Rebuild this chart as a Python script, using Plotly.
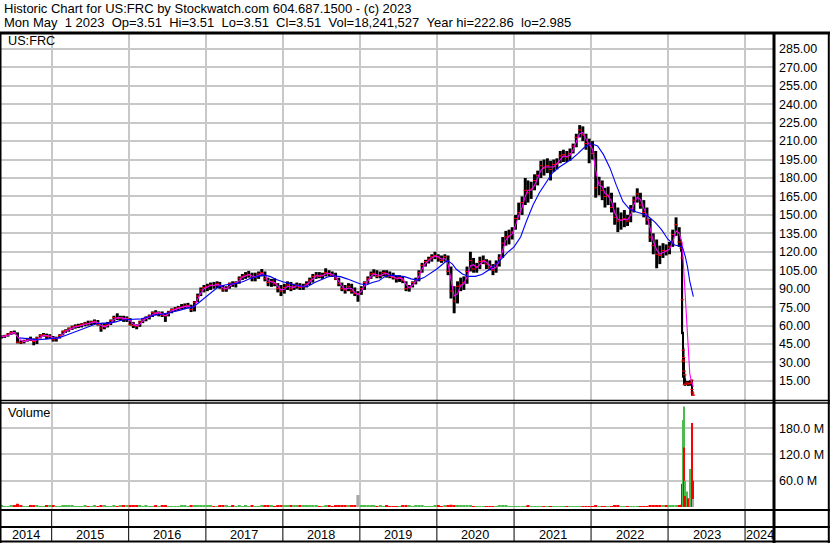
import pandas as pd
import plotly.graph_objects as go

# ---------------- data ----------------
# semi-monthly sampling grid May 2014 .. Feb 2023, then finer around the March 2023 collapse
half_month_dates = [f"{y}-{m:02d}-{d:02d}" for y in range(2014, 2024) for m in range(1, 13) for d in (8, 23)
                    if (2014, 5) <= (y, m) <= (2023, 2)]
crash_dates = ["2023-03-03", "2023-03-09", "2023-03-10", "2023-03-13", "2023-03-14", "2023-03-15",
               "2023-03-16", "2023-03-17", "2023-03-20", "2023-03-21", "2023-03-24", "2023-03-31",
               "2023-04-07", "2023-04-14", "2023-04-21", "2023-04-24", "2023-04-25", "2023-04-26",
               "2023-04-27", "2023-04-28", "2023-05-01"]
dates = half_month_dates + crash_dates

high = [
    52, 52.5, 54, 55.5, 56, 54.5, 48, 48.5, 50, 51, 49.5, 51, 53, 54, 53.5, 53,
    51.5, 51, 53, 56, 57, 58.5, 60, 61, 61.5, 62, 63, 64, 64, 65, 64.5, 62, 62, 63, 65, 68, 70, 68, 68, 67.5,
    66, 63, 61, 64, 66, 67.5, 69, 71.5, 72.5, 71.5, 71.5, 70, 72, 74, 75, 76, 77.5, 78, 78.5, 77, 80, 86, 91, 93,
    94, 95, 95.5, 96, 95.5, 93, 92, 95, 96, 96, 100, 102, 103.5, 104.5, 103, 103, 104, 106, 104, 99, 98, 98.5, 94.5, 93,
    94, 96, 95.5, 94, 95, 94.5, 94, 96, 99, 102, 103.5, 103.5, 103, 106.6, 105, 104, 103, 99, 95, 93, 94.5, 94, 91, 88,
    92, 96, 100, 104, 105.8, 105, 104, 105, 105, 104, 103, 101, 101, 100, 96, 93, 96, 99, 105, 111, 113.5, 116, 118, 120,
    118, 117, 118, 117, 108, 92, 96, 99, 100, 108, 120, 115, 111, 116, 117, 114, 113, 110, 113, 118, 132, 137, 138, 140,
    150, 160, 165, 180, 178, 177, 183, 186, 194, 195, 196, 194, 195, 196, 202, 203, 202, 204, 208, 216, 223, 222, 216, 212,
    210, 202, 181, 178, 172, 173, 168, 160, 156, 152, 154, 150, 158, 165, 171.6, 168, 162, 156, 147, 135, 130, 125, 127, 126,
    128, 138, 148, 140,
    130, 123, 115, 55, 50, 40, 42, 34, 24, 20, 17, 15, 15, 15.5, 15, 16, 15.7, 8.5, 6.5, 5.5, 3.51,
]
low = [
    49.5, 50, 51, 52.5, 53, 45.5, 45, 45.5, 47, 47.5, 44, 45, 49.5, 51, 49, 49.5,
    47, 47, 49.5, 52, 54, 55, 56.5, 57.5, 58, 58.5, 59.5, 60, 60.5, 61, 60, 55, 57, 58.5, 60.5, 63, 64.5, 64, 63, 63,
    60, 58, 57, 59, 62, 63.5, 65, 67, 68.5, 67.5, 67, 63, 67.5, 70, 71.5, 72, 73, 73.5, 74.5, 71, 71.5, 79, 84, 87,
    88, 89, 90, 90.5, 90, 87.5, 87.5, 90, 91.5, 91, 94, 97, 98, 99, 96, 96, 98, 100, 96, 92, 91.5, 92, 87, 84,
    86, 89, 88, 89, 90, 89, 89, 91, 93, 95, 98, 98.5, 98, 100, 100, 99.5, 97, 92, 88, 86, 88, 86, 84, 79.4,
    85, 89, 94, 98, 100, 98.5, 98.4, 100, 99, 98.5, 97.5, 95, 95.5, 94.5, 88, 87.6, 91, 93.5, 96, 103, 108, 110.5, 112, 114,
    112, 111, 112, 101, 82, 70, 78, 88, 89, 94, 104, 103, 103, 106, 110, 106, 105, 101, 103, 108, 115, 125, 126, 130,
    138, 146, 150, 158, 160, 163, 170, 174, 180, 182, 184, 178, 185, 187, 192, 193, 193, 194, 200, 205, 213, 210, 203, 192,
    195, 164, 166, 162, 156, 158, 152, 142, 136, 138, 140, 141, 144, 152, 160, 155, 148, 142, 128, 118, 106.6, 110, 115, 117,
    118, 124, 133, 124,
    120, 113, 53, 17.5, 30, 29, 24, 21, 11.5, 12, 11, 11.5, 11, 11, 12, 12.5, 8, 5.5, 4.5, 3, 3.51,
]
close = [
    51, 51.5, 53, 54.5, 54, 46.5, 46, 47.5, 49, 48.5, 47, 50, 52, 52.5, 51, 51.5,
    48.5, 50, 52, 55, 56, 57.5, 59, 59.5, 60, 61, 62, 61.5, 63, 63.5, 61, 58, 60, 60.5, 64, 66.5, 66, 66.5, 65, 66,
    61, 60, 59.5, 63, 65, 66.5, 68, 70.5, 70, 70.5, 68.5, 68, 71, 73, 73.5, 74.5, 75, 76, 76.5, 73, 79, 84, 89, 91,
    92, 93, 92.5, 94, 92, 89, 90.5, 94, 93.5, 95, 98.5, 100, 101, 101.5, 99, 100, 102, 103, 98, 95, 96, 94, 90, 88,
    91, 93, 90, 92, 93, 91, 92, 94, 97, 100, 101, 100, 101, 103, 102, 101, 98, 94, 90, 89, 92, 88, 86, 86,
    90, 95, 98, 102, 102.5, 100, 101, 103, 102, 100, 99, 98, 99, 97, 90, 91, 95, 97, 103, 109, 112, 114, 116, 117,
    115, 113, 116, 104, 88, 80, 92, 93, 95, 104, 113, 106, 108, 112, 113, 110, 107, 105, 110, 115, 127, 132, 133, 136,
    147, 152, 160, 170, 168, 171, 178, 182, 190, 188, 190, 187, 191, 192, 198, 199, 197, 200, 206, 213, 219, 215, 208, 207,
    200, 172, 176, 170, 165, 166, 156, 148, 145, 146, 147, 145, 155, 162, 167, 158, 152, 146, 132, 125, 118, 117, 121, 120.5,
    124, 134, 142, 128,
    123, 115, 81, 31, 40, 32, 34, 23, 12, 20, 12.5, 13.5, 12.5, 13, 14, 15.7, 8.1, 6, 5.3, 3.51, 3.51,
]
ma_fast = [
    51, 51.3, 52, 53.5, 54.5, 51, 48, 47, 48, 48.8, 48, 48.3, 50.5, 52, 52, 51.3,
    50, 49.3, 50.5, 53.5, 55.3, 56.5, 58, 59, 59.5, 60.3, 61.3, 61.8, 62.3, 63, 62.5, 60, 59, 60, 62, 65, 66.3, 66.3, 66, 65.5,
    64, 61, 60, 61, 63.8, 65.8, 67, 69, 70.3, 70.3, 69.5, 68, 69.5, 72, 73.3, 74, 74.8, 75.5, 76, 74.5, 75.5, 81.5, 86.5, 90,
    91.5, 92.5, 92.8, 93.3, 93, 90.5, 89.8, 92, 94, 94.5, 96.5, 99.3, 100.5, 101.3, 100.3, 99.5, 101, 102.5, 100.5, 96.5, 95.5, 95, 92, 89,
    89.5, 92, 91.5, 91, 92.5, 92, 91.5, 93, 95.5, 98.5, 100.5, 100.5, 100.5, 102, 102.5, 101.5, 99.5, 96, 92, 89.5, 90.5, 90, 87, 85,
    88, 92.5, 96.5, 100, 102, 101, 100.5, 102, 102.5, 101, 99.5, 98.5, 98.5, 98, 93.5, 90.5, 93, 96, 100, 106, 110.5, 113, 115, 116.5,
    116, 114, 114.5, 110, 96, 84, 86, 92.5, 94, 99.5, 108.5, 109.5, 107, 110, 112.5, 111.5, 108.5, 106, 107.5, 112.5, 121, 129.5, 132.5, 134.5,
    141.5, 149.5, 156, 165, 170, 170, 174, 180, 186, 189, 189, 188.5, 189, 191.5, 195, 198, 197.5, 198.5, 203, 209.5, 216, 217, 211.5, 207.5,
    203.5, 186, 174, 173, 167.5, 165.5, 161, 152, 146.5, 145.5, 146.5, 146, 150, 158.5, 164.5, 162.5, 155, 149, 139, 128.5, 121.5, 118, 119.5, 121,
    122, 128, 137, 135,
    130, 127, 124, 115, 112, 108, 104, 100, 95, 90, 80, 55, 35, 21, 15, 14.5, 13.5, 12.5, 11.5, 10.8, 10.3,
]
volume_m = [
    2.5, 2, 2, 2.5, 3, 7, 3, 2, 2, 2.5, 3, 2.5, 2, 2, 2.5, 3,
    2.5, 2, 2, 3, 4.5, 3, 2.5, 2, 2, 2, 2.5, 2, 2, 2.5, 2, 3, 2.5, 2, 2, 2.5, 2, 2.5, 3, 2.5,
    3, 3.5, 3, 2.5, 2, 2.5, 2, 2, 2.5, 2, 2.5, 3.5, 2, 2, 2, 2, 2.5, 2.5, 2, 2.5, 3.5, 3.5, 3, 3,
    2.5, 2.5, 2, 2, 2.5, 3, 2.5, 2, 2.5, 2, 2.5, 2, 2.5, 2, 2.5, 2, 2, 2.5, 3, 3, 2.5, 2, 3, 3,
    2.5, 3, 3.5, 3, 2.5, 2.5, 3, 3, 2.5, 3, 2.5, 2, 2, 3, 2.5, 2, 3, 3.5, 3.5, 3, 3, 3, 3.5, 27,
    3.5, 3, 2.5, 2.5, 2.5, 2, 2.5, 2, 2.5, 2, 2, 2, 2, 2.5, 3, 2.5, 2, 2.5, 3, 2.5, 2, 2, 2, 2.5,
    2.5, 2, 2.5, 4, 5, 4.5, 3.5, 2.5, 2.5, 2.5, 2.5, 2, 2, 2, 2, 2, 2, 2, 2, 2.5, 3.5, 2.5, 2, 2,
    2, 2, 2, 2, 2.5, 2, 1.5, 1.5, 1.5, 1.5, 1.5, 1.5, 1.5, 1.5, 1.5, 1.5, 1.5, 1.5, 1.5, 1.5, 1.5, 1.5, 1.5, 1.5,
    2, 2.5, 2, 2, 2, 2, 2, 2.5, 2.5, 2, 2, 2, 2, 2, 2, 2, 2, 2, 3, 3, 4, 3, 2.5, 2.5,
    2.5, 2.5, 3, 4,
    5, 12, 53, 136, 199, 110, 230, 136, 80, 60, 25, 35, 20, 87, 10, 25, 192, 150, 110, 60, 18.2,
]

slow_dates = [
    "2014-08-01", "2014-09-01", "2014-10-01", "2014-11-01", "2014-12-01",
    "2015-01-01", "2015-02-01", "2015-03-01", "2015-04-01", "2015-05-01", "2015-06-01",
    "2015-07-01", "2015-08-01", "2015-09-01", "2015-10-01", "2015-11-01", "2015-12-01",
    "2016-01-01", "2016-02-01", "2016-03-01", "2016-04-01", "2016-05-01", "2016-06-01",
    "2016-07-01", "2016-08-01", "2016-09-01", "2016-10-01", "2016-11-01", "2016-12-01",
    "2017-01-01", "2017-02-01", "2017-03-01", "2017-04-01", "2017-05-01", "2017-06-01",
    "2017-07-01", "2017-08-01", "2017-09-01", "2017-10-01", "2017-11-01", "2017-12-01",
    "2018-01-01", "2018-02-01", "2018-03-01", "2018-04-01", "2018-05-01", "2018-06-01",
    "2018-07-01", "2018-08-01", "2018-09-01", "2018-10-01", "2018-11-01", "2018-12-01",
    "2019-01-01", "2019-02-01", "2019-03-01", "2019-04-01", "2019-05-01", "2019-06-01",
    "2019-07-01", "2019-08-01", "2019-09-01", "2019-10-01", "2019-11-01", "2019-12-01",
    "2020-01-01", "2020-02-01", "2020-02-20", "2020-03-15", "2020-04-01", "2020-05-01", "2020-06-01",
    "2020-07-01", "2020-08-01", "2020-09-01", "2020-10-01", "2020-11-01", "2020-12-01",
    "2021-01-01", "2021-02-01", "2021-03-01", "2021-04-01", "2021-05-01", "2021-06-01",
    "2021-07-01", "2021-08-01", "2021-09-01", "2021-10-01", "2021-11-01", "2021-12-01",
    "2022-01-01", "2022-02-01", "2022-03-01", "2022-04-01", "2022-05-01", "2022-06-01",
    "2022-07-01", "2022-08-01", "2022-09-01", "2022-10-01", "2022-11-01", "2022-12-01",
    "2023-01-01", "2023-02-01", "2023-03-01", "2023-03-10", "2023-03-24", "2023-04-03",
    "2023-04-14", "2023-05-01",
]
ma_slow = [
    50, 49.5, 49, 48.5, 49,
    49.5, 50, 51.5, 53.5, 55.5, 57.5,
    59.5, 61.5, 62, 62, 63, 64.5,
    65, 65, 65.5, 67, 68.5, 69,
    70, 71, 72.5, 74, 75, 79,
    83.5, 88, 91.5, 93, 93.5, 94.5,
    96, 98.4, 100, 101, 100, 97.5,
    95.7, 94, 93, 92, 92, 95,
    97.5, 99.5, 100.5, 99.8, 98, 96,
    94, 93, 95, 96.5, 100, 101,
    100.5, 99.8, 98, 97, 99, 102.5,
    106, 110.5, 113, 110, 106, 102, 100,
    100, 101.5, 105, 109, 114, 119.5,
    124, 132, 145, 158, 168, 176,
    184, 188.5, 192, 195.5, 200, 205,
    208, 206, 199, 188, 174, 161,
    155, 152.5, 151, 148.5, 144, 138,
    130, 125.5, 124.5, 124, 116, 108,
    96, 83.5,
]

price_ticks = [15, 30, 45, 60, 75, 90, 105, 120, 135, 150, 165, 180, 195, 210, 225, 240, 255, 270, 285]
volume_ticks = [60, 120, 180]
volume_tick_labels = ["60.0 M", "120.0 M", "180.0 M"]
year_labels = [2014, 2015, 2016, 2017, 2018, 2019, 2020, 2021, 2022, 2023, 2024]

header_line1 = "Historic Chart for US:FRC by Stockwatch.com 604.687.1500 - (c) 2023"
header_line2 = "Mon May  1 2023  Op=3.51  Hi=3.51  Lo=3.51  Cl=3.51  Vol=18,241,527  Year hi=222.86  lo=2.985"
symbol_label = "US:FRC"
volume_label = "Volume"

assert len(dates) == len(high) == len(low) == len(close) == len(ma_fast) == len(volume_m)
assert len(slow_dates) == len(ma_slow)

# ---------------- figure ----------------
W, H = 830, 543
FONT = "Liberation Sans, Arial, sans-serif"
X_RANGE = ["2014-05-01", "2024-05-22"]
AXIS_RIGHT = 775


def py(pix):  # pixel row -> paper y
    return 1 - pix / H


def px(pix):  # pixel column -> paper x
    return pix / W


df = pd.DataFrame({"date": pd.to_datetime(dates), "high": high, "low": low, "close": close,
                   "ma": ma_fast, "vol": volume_m})
DAY = 86400000
late = df["date"] >= pd.Timestamp("2023-03-01")
price_w = [(7 if l else 14) * DAY for l in late]
vol_w = [(4 if l else 15) * DAY for l in late]

vol_colors = []
prev = None
for c in df["close"]:
    if prev is None or c > prev:
        vol_colors.append("#4cbb4c")
    elif c < prev:
        vol_colors.append("#ff0000")
    else:
        vol_colors.append("#a8a8a8")
    prev = c

fig = go.Figure()
fig.add_trace(go.Bar(x=df["date"], y=df["high"] - df["low"], base=df["low"], width=price_w,
                     marker=dict(color="#000000", line=dict(width=0)), xaxis="x", yaxis="y"))
fig.add_trace(go.Scatter(x=df["date"], y=df["close"], mode="markers",
                         marker=dict(symbol="line-ew", size=2.5, line=dict(color="#ff0000", width=1)),
                         xaxis="x", yaxis="y"))
fig.add_trace(go.Scatter(x=df["date"], y=df["ma"], mode="lines",
                         line=dict(color="#ff00ff", width=1.1), xaxis="x", yaxis="y"))
fig.add_trace(go.Scatter(x=pd.to_datetime(slow_dates), y=ma_slow, mode="lines",
                         line=dict(color="#0000ff", width=1.1), xaxis="x", yaxis="y"))
fig.add_trace(go.Bar(x=df["date"], y=df["vol"], width=vol_w,
                     marker=dict(color=vol_colors, line=dict(width=0)), xaxis="x2", yaxis="y2"))

year_starts = [pd.Timestamp(f"{y}-01-01") for y in year_labels[1:]]
grid = "#c8c8c8"
xdom = [0, px(AXIS_RIGHT)]
common_x = dict(type="date", range=X_RANGE, domain=xdom, tickvals=year_starts, showticklabels=False,
                showgrid=True, gridcolor=grid, gridwidth=2, zeroline=False, showline=False, ticks="")
fig.update_layout(
    width=W, height=H, margin=dict(l=0, r=0, t=0, b=0, pad=0, autoexpand=False),
    paper_bgcolor="white", plot_bgcolor="white", showlegend=False, barmode="overlay",
    font=dict(family=FONT, color="#000000"),
    xaxis=dict(anchor="y", **common_x),
    xaxis2=dict(anchor="y2", matches="x", **common_x),
    yaxis=dict(domain=[py(400), py(33)], range=[-0.5, 297.9], side="right", anchor="x",
               tickvals=price_ticks, tickformat=".2f", ticks="", showgrid=True, gridcolor=grid, gridwidth=2,
               zeroline=False, showline=False, ticklabelstandoff=3,
               tickfont=dict(family=FONT, size=12.5, color="#000000")),
    yaxis2=dict(domain=[py(509.5), py(402)], range=[-6, 240.2], side="right", anchor="x2",
                tickvals=volume_ticks, ticktext=volume_tick_labels, ticks="", showgrid=True, gridcolor=grid,
                gridwidth=2, zeroline=False, showline=False, ticklabelstandoff=3,
                tickfont=dict(family=FONT, size=12.5, color="#000000")),
)

# frame lines
shapes = []
def hline(yp, w):
    shapes.append(dict(type="line", xref="paper", yref="paper", x0=0, x1=1, y0=py(yp), y1=py(yp),
                       line=dict(color="#000000", width=w)))
def vline(xp, w, y_top=33, y_bot=543):
    shapes.append(dict(type="line", xref="paper", yref="paper", x0=px(xp), x1=px(xp), y0=py(y_top), y1=py(y_bot),
                       line=dict(color="#000000", width=w)))
hline(33, 3)
hline(400.5, 1.5)
hline(403, 1.5)
hline(510, 2)
hline(527, 2)
hline(541.5, 2)
vline(0.75, 1.5)
vline(774, 3)
vline(828.8, 2)
for ys in year_starts:
    shapes.append(dict(type="line", xref="x", yref="paper", x0=ys, x1=ys, y0=py(510), y1=py(542),
                       line=dict(color="#000000", width=1)))
fig.update_layout(shapes=shapes)

nb = "\u00a0"
ann = [
    dict(text=header_line1.replace(" ", nb), x=px(3), y=py(8.5)),
    dict(text=header_line2.replace(" ", nb), x=px(3), y=py(22)),
    dict(text=symbol_label, x=px(7), y=py(41), size=12.7),
    dict(text=volume_label, x=px(7), y=py(413), size=12.7),
]
annotations = []
for a in ann:
    annotations.append(dict(text=a["text"], xref="paper", yref="paper", x=a["x"], y=a["y"],
                            xanchor="left", yanchor="middle", showarrow=False, borderpad=0,
                            font=dict(family=FONT, size=a.get("size", 13), color="#000000")))

rs, re_ = pd.Timestamp(X_RANGE[0]), pd.Timestamp(X_RANGE[1])
for yv in year_labels:
    s = max(pd.Timestamp(f"{yv}-01-01"), rs)
    e = min(pd.Timestamp(f"{yv + 1}-01-01"), re_)
    mid = s + (e - s) / 2
    annotations.append(dict(text=str(yv), xref="x", yref="paper", x=mid, y=py(534.5),
                            xanchor="center", yanchor="middle", showarrow=False, borderpad=0,
                            font=dict(family=FONT, size=12.7, color="#000000")))
fig.update_layout(annotations=annotations)

# the page's default 8px body margin would shift the 830x543 figure out of the window
fig.write_html("out.html", config={"displayModeBar": False},
               post_script="document.body.style.margin='0px';document.body.style.overflow='hidden';")
